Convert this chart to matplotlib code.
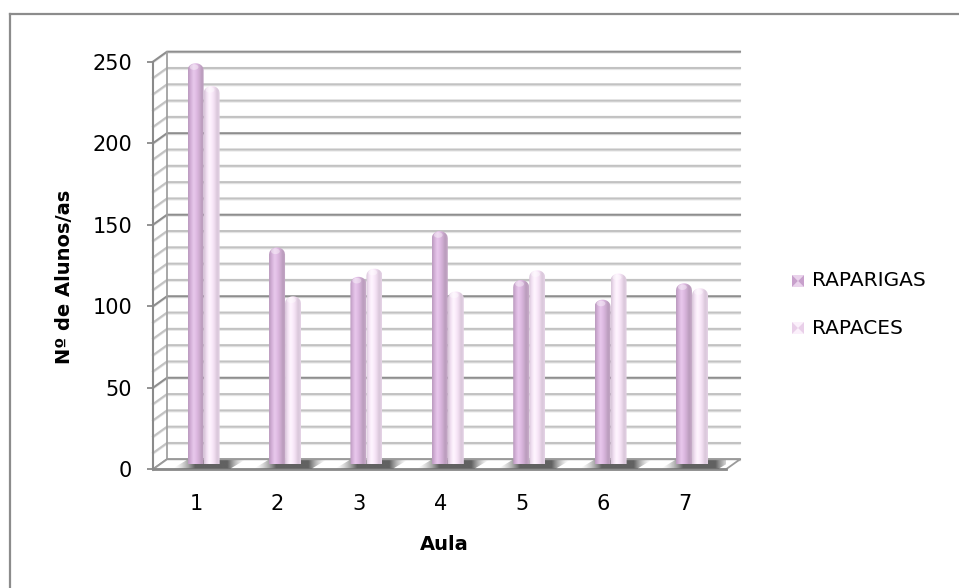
"""Alunos por aula, raparigas e rapazes, em colunas cilíndricas estilo 3D."""

import matplotlib

matplotlib.use("Agg")

import matplotlib.pyplot as plt
import numpy as np
from matplotlib.colors import LinearSegmentedColormap, to_rgb
from matplotlib.lines import Line2D
from matplotlib.patches import Ellipse, PathPatch, Polygon
from matplotlib.path import Path

# Dados
aulas = ["1", "2", "3", "4", "5", "6", "7"]
raparigas = [246, 133, 115, 143, 113, 101, 111]
rapazes = [232, 103, 120, 106, 119, 117, 108]
series_names = ["RAPARIGAS", "RAPACES"]
y_ticks = [0, 50, 100, 150, 200, 250]

# Cores dos cilindros (da esquerda para a direita)
cores_raparigas = ["#b999bd", "#d4b0d8", "#e9c9ed", "#dfbbe3", "#cfadd2", "#b99bbb", "#c8acca"]
cores_rapazes = ["#d6c3d7", "#f1e0f2", "#fff6ff", "#fbecfb", "#efdcef", "#d8c6d9", "#e6d5e7"]

W, H = 959, 588
fig = plt.figure(figsize=(W / 100, H / 100), dpi=100)
fig.patch.set_facecolor("white")


def fx(px):
    return px / W


def fy(py):
    # py medido a partir do topo da imagem
    return 1 - py / H


# Moldura (só topo e esquerda ficam visíveis)
fig.add_artist(Line2D([fx(10), 1], [fy(14), fy(14)], color="#8c8c8c", lw=1.6))
fig.add_artist(Line2D([fx(10), fx(10)], [fy(14), 0], color="#8c8c8c", lw=1.6))

# Área do gráfico (plano da frente)
AX_L, AX_R = 153, 726
AX_T, AX_B = 61.7, 469.3
X0, X1 = 0.47, 7.51
ax = fig.add_axes([fx(AX_L), fy(AX_B), (AX_R - AX_L) / W, (AX_B - AX_T) / H])

px_x = (AX_R - AX_L) / (X1 - X0)
px_y = (AX_B - AX_T) / 250.0

# profundidade da parede do fundo
DX = 14 / px_x
DY = 10 / px_y

# Grelha: parede do fundo e parede lateral
for v in range(0, 251, 10):
    major = v % 50 == 0
    col = "#8e8e8e" if major else "#c2c2c2"
    ax.plot([X0, X0 + DX, X1 + DX], [v - 1.4 / px_y, v + DY - 1.4 / px_y, v + DY - 1.4 / px_y],
            color="#e8e8e8", lw=1.0, clip_on=False, zorder=0.9)
    ax.plot([X0, X0 + DX, X1 + DX], [v, v + DY, v + DY], color=col, lw=1.5,
            clip_on=False, zorder=1, solid_joinstyle="miter")
ax.plot([X0 + DX, X0 + DX], [DY, 250 + DY], color="#a0a0a0", lw=1.3, clip_on=False, zorder=1)

# Chão
chao = Polygon([(X0, 0), (X1, 0), (X1 + DX, DY), (X0 + DX, DY)], closed=True,
               facecolor="white", edgecolor="#9a9a9a", lw=1.3, clip_on=False, zorder=2)
ax.add_patch(chao)
ax.plot([X0, X1], [0, 0], color="#8a8a8a", lw=2, clip_on=False, zorder=2.1)

# Posições dos cilindros
BW = 16 / px_x
OFF_X = 7.5 / px_x
SEP = 8 / px_x
BASE = 5 / px_y
CAP = 7 / px_y
xs = np.arange(1, len(aulas) + 1)


def sombra(xl, xr):
    """Sombra escura no chão junto a um par de cilindros."""
    a, b = xl - 15 / px_x, xr + 11 / px_x
    poly = Polygon([(a, 0.5), (b, 0.5), (b + DX, DY - 0.5), (a + DX, DY - 0.5)],
                   closed=True, facecolor="none", edgecolor="none", clip_on=False)
    ax.add_patch(poly)
    n = 100
    t = np.linspace(0, 1, n)
    alpha = np.clip(np.minimum(t / 0.3, (1 - t) / 0.25), 0, 1) ** 1.5 * 0.8
    img = np.zeros((1, n, 4))
    img[..., :3] = to_rgb("#3a3a3a")
    img[0, :, 3] = alpha
    im = ax.imshow(img, extent=[a, b + DX, 0, DY], aspect="auto", origin="lower",
                   zorder=2.5, interpolation="bilinear")
    im.set_clip_path(poly)


def cilindro(xc, valor, cores, z):
    cmap = LinearSegmentedColormap.from_list("cil", cores)
    hw = BW / 2
    topo = BASE + valor
    t = np.linspace(-1, 1, 41)
    verts = [(xc - hw, BASE)]
    verts += list(zip(xc + hw * t, topo - CAP + CAP * np.sqrt(1 - t ** 2)))
    verts += [(xc + hw, BASE), (xc - hw, BASE)]
    path = Path(np.array(verts), closed=True)
    patch = PathPatch(path, facecolor="none", edgecolor="none", clip_on=False)
    ax.add_patch(patch)
    grad = np.linspace(0, 1, 128).reshape(1, -1)
    im = ax.imshow(grad, cmap=cmap, extent=[xc - hw, xc + hw, BASE, topo], aspect="auto",
                   origin="lower", zorder=z, interpolation="bicubic")
    im.set_clip_path(patch)
    # brilho no topo arredondado
    brilho = Ellipse((xc - hw * 0.2, topo - CAP * 0.55), BW * 0.55, CAP * 0.8,
                     facecolor="white", edgecolor="none", alpha=0.4, zorder=z + 0.01)
    ax.add_patch(brilho)
    brilho.set_clip_path(patch)


for i, x in enumerate(xs):
    xa = x + OFF_X - SEP
    xb = x + OFF_X + SEP
    sombra(xa - BW / 2, xb + BW / 2)
    cilindro(xa, raparigas[i], cores_raparigas, 3 + i * 0.1)
    cilindro(xb, rapazes[i], cores_rapazes, 3.05 + i * 0.1)

ax.set_xlim(X0, X1)
ax.set_ylim(0, 250)

# Eixos
for s in ["top", "right", "bottom"]:
    ax.spines[s].set_visible(False)
ax.spines["left"].set_color("#8a8a8a")
ax.spines["left"].set_linewidth(1.5)
ax.spines["left"].set_zorder(5)
ax.set_yticks(y_ticks)
ax.set_yticklabels([str(v) for v in y_ticks])
ax.tick_params(axis="y", length=4, width=1.3, color="#8a8a8a", pad=11, labelsize=15)
ax.set_xticks(xs)
ax.set_xticklabels(aulas)
ax.tick_params(axis="x", length=0, pad=18, labelsize=15)
ax.patch.set_visible(False)

fig.text(fx(444), fy(545), "Aula", ha="center", va="center", fontsize=14, fontweight="bold")
fig.text(fx(65), fy(277), "Nº de Alunos/as", ha="center", va="center", rotation=90,
         fontsize=14, fontweight="bold")


# Legenda
def icone(px_l, py_t, size, escuro, claro):
    l, r = fx(px_l), fx(px_l + size)
    t, b = fy(py_t), fy(py_t + size)
    cx, cy = (l + r) / 2, (t + b) / 2
    tris = [
        ([(l, t), (r, t), (cx, cy)], claro),
        ([(l, b), (r, b), (cx, cy)], claro),
        ([(l, t), (l, b), (cx, cy)], escuro),
        ([(r, t), (r, b), (cx, cy)], escuro),
    ]
    for pts, c in tris:
        fig.add_artist(Polygon(pts, closed=True, facecolor=c, edgecolor="none",
                               transform=fig.transFigure))


icone(792, 275, 12, "#c8a0cc", "#ead3ec")
icone(792, 322, 12, "#e9cfe9", "#fbf0fb")
fig.text(fx(812), fy(281), series_names[0], ha="left", va="center", fontsize=14.5)
fig.text(fx(812), fy(328), series_names[1], ha="left", va="center", fontsize=14.5)

fig.savefig("out.png", dpi=100)
